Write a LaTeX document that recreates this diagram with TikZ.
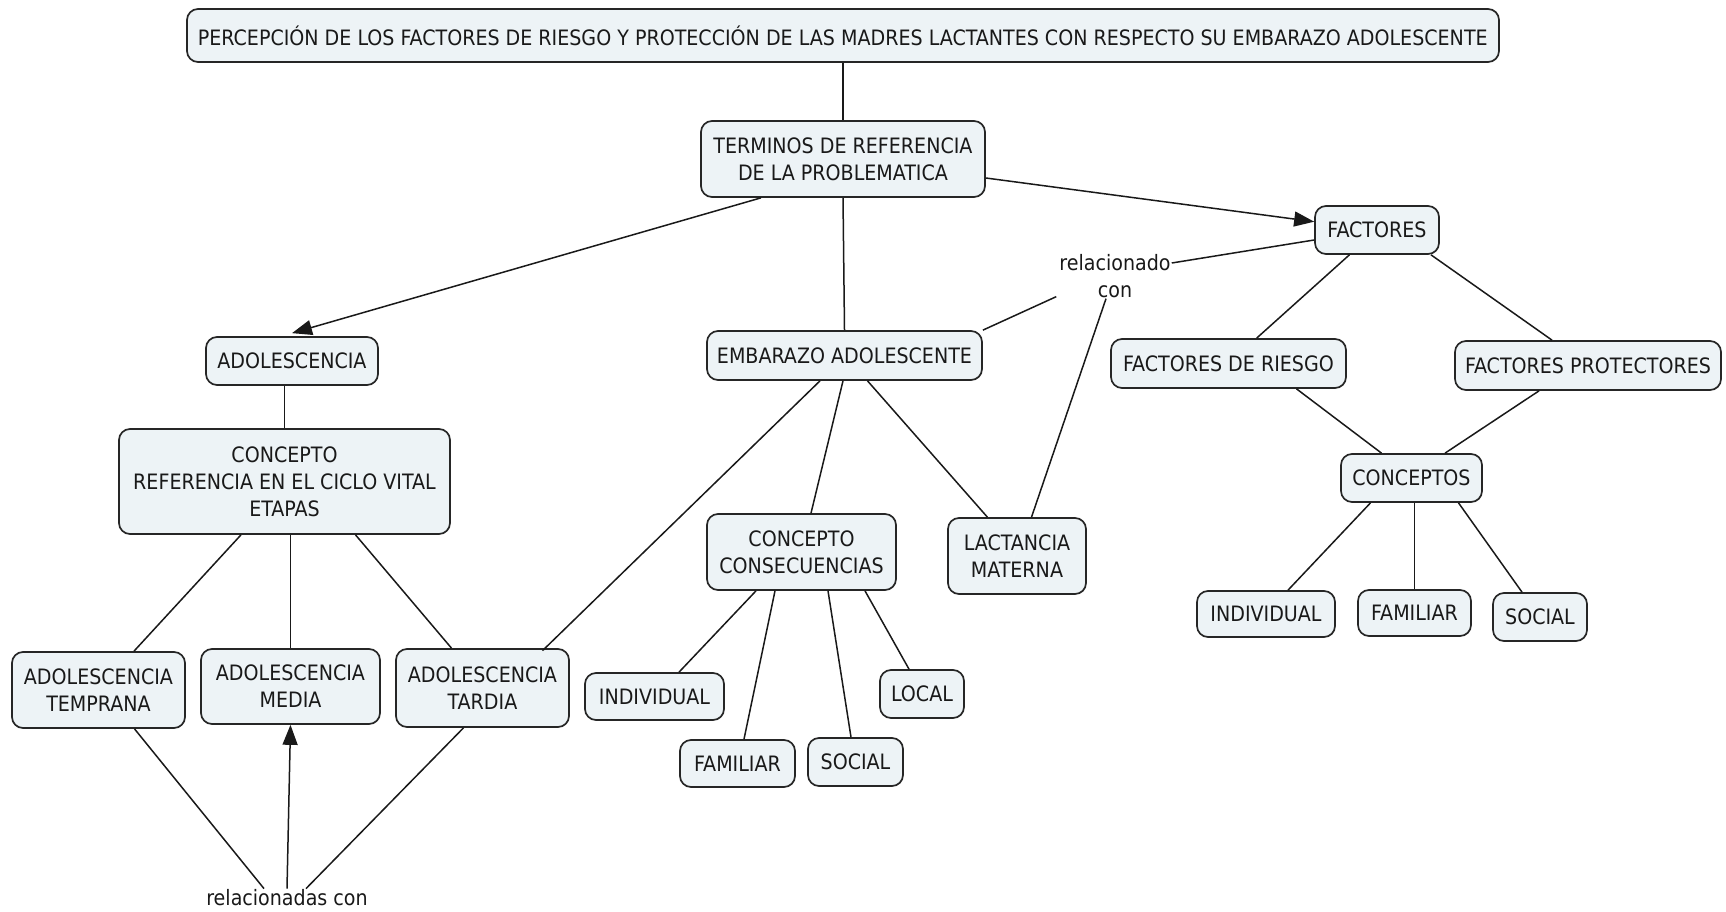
\documentclass[tikz,border=0pt]{standalone}
\usepackage{fontspec}
\setmainfont{DejaVu Sans Condensed}
\usetikzlibrary{arrows.meta}
\definecolor{boxfill}{RGB}{237,243,246}
\definecolor{boxline}{RGB}{38,38,38}
\definecolor{ink}{RGB}{25,25,25}
\begin{document}
\begin{tikzpicture}[x=1pt,y=-1pt,
  box/.style={draw=boxline, line width=1.7pt, fill=boxfill, rounded corners=11pt,
    align=center, inner sep=0pt, text=ink, font=\fontsize{21.2}{27}\selectfont},
  sz/.style 2 args={minimum width=#1pt, minimum height=#2pt},
  lbl/.style={align=center, inner sep=1pt, text=ink, font=\fontsize{21.2}{26.5}\selectfont},
  link/.style={line width=1.5pt, draw=ink},
  arr/.style={link, -{Triangle[length=20pt,width=15pt]}}
]
\useasboundingbox (0,0) rectangle (1726,912);

% nodes
\node[box, sz={1312}{53}] (T) at (843,35.5) {PERCEPCIÓN DE LOS FACTORES DE RIESGO Y PROTECCIÓN DE LAS MADRES LACTANTES CON RESPECTO SU EMBARAZO ADOLESCENTE};
\node[box, sz={284}{76}] (TER) at (843,159) {TERMINOS DE REFERENCIA\\DE LA PROBLEMATICA};
\node[box, sz={124}{48}] (FAC) at (1377,230) {FACTORES};
\node[box, sz={172}{48}] (ADO) at (292,361) {ADOLESCENCIA};
\node[box, sz={275}{49}] (EMB) at (844.5,355.5) {EMBARAZO ADOLESCENTE};
\node[box, sz={235}{49}] (FDR) at (1228.5,363.5) {FACTORES DE RIESGO};
\node[box, sz={266}{49}] (FP) at (1588,365.5) {FACTORES PROTECTORES};
\node[box, sz={331}{105}] (CREF) at (284.5,481.5) {CONCEPTO\\REFERENCIA EN EL CICLO VITAL\\ETAPAS};
\node[box, sz={189}{76}] (CONS) at (801.5,552) {CONCEPTO\\CONSECUENCIAS};
\node[box, sz={138}{76}] (LACT) at (1017,556) {LACTANCIA\\MATERNA};
\node[box, sz={141}{48}] (CON) at (1411.5,478) {CONCEPTOS};
\node[box, sz={138}{46}] (IR) at (1266,614) {INDIVIDUAL};
\node[box, sz={113}{46}] (FR) at (1414.5,613) {FAMILIAR};
\node[box, sz={94}{48}] (SR) at (1540,617) {SOCIAL};
\node[box, sz={173}{76}] (TEMP) at (98.5,690) {ADOLESCENCIA\\TEMPRANA};
\node[box, sz={179}{75}] (MED) at (290.5,686.5) {ADOLESCENCIA\\MEDIA};
\node[box, sz={173}{78}] (TARD) at (482.5,688) {ADOLESCENCIA\\TARDIA};
\node[box, sz={139}{47}] (IM) at (654.5,696.5) {INDIVIDUAL};
\node[box, sz={115}{47}] (FM) at (737.5,763.5) {FAMILIAR};
\node[box, sz={95}{48}] (SM) at (855.5,762) {SOCIAL};
\node[box, sz={84}{48}] (LOC) at (922,694) {LOCAL};
\node[lbl] (RC1) at (1115,276) {relacionado\\con};
\node[lbl] (RC2) at (287,898) {relacionadas con};

% connectors
\draw[link] (T.south) -- (TER.north);
\draw[arr] ([xshift=-82pt]TER.south) -- ([yshift=3pt]ADO.north);
\draw[arr] (TER) -- (FAC);
\draw[link] (TER.south) -- (EMB.north);
\draw[link] ([xshift=-1.5pt]EMB.south) -- ([xshift=9.5pt]CONS.north);
\draw[link] ([xshift=23pt]EMB.south) -- ([xshift=-29.6pt]LACT.north);
\draw[link] ([xshift=-24.5pt]EMB.south) -- ([xshift=60pt,yshift=-2.5pt]TARD.north);
\draw[link] (EMB.north east) -- ([xshift=-2pt,yshift=2pt]RC1.south west);
\draw[link] ([yshift=13pt]RC1.east) -- ([yshift=-10pt]FAC.west);
\draw[link] ([xshift=-9pt]RC1.south) -- ([xshift=14.5pt]LACT.north);
\draw[link] (FAC) -- (FDR);
\draw[link] ([xshift=54pt]FAC.south) -- ([xshift=-36pt]FP.north);
\draw[link] ([xshift=68pt]FDR.south) -- ([xshift=-30pt]CON.north);
\draw[link] ([xshift=-49pt]FP.south) -- ([xshift=33.5pt]CON.north);
\draw[link] ([xshift=-41pt]CON.south) -- ([xshift=22pt]IR.north);
\draw[link] (FR.north |- CON.south) -- (FR.north);
\draw[link] ([xshift=47pt]CON.south) -- ([xshift=-18pt]SR.north);
\draw[link] (CREF.north) -- (CREF.north |- ADO.south);
\draw[link] ([xshift=-43.5pt]CREF.south) -- ([xshift=35.5pt]TEMP.north);
\draw[link] (MED.north |- CREF.south) -- (MED.north);
\draw[link] ([xshift=71pt]CREF.south) -- ([xshift=-31pt]TARD.north);
\draw[link] ([xshift=-45.5pt]CONS.south) -- ([xshift=24.5pt]IM.north);
\draw[link] ([xshift=-26.5pt]CONS.south) -- ([xshift=6.5pt]FM.north);
\draw[link] ([xshift=26.5pt]CONS.south) -- ([xshift=-4.5pt]SM.north);
\draw[link] ([xshift=63.5pt]CONS.south) -- ([xshift=-13pt]LOC.north);
\draw[link] ([xshift=36pt]TEMP.south) -- ([xshift=-23pt]RC2.north);
\draw[link] ([xshift=-19pt]TARD.south) -- ([xshift=19pt]RC2.north);
\draw[arr] (RC2.north) -- (MED.south);
\end{tikzpicture}
\end{document}
